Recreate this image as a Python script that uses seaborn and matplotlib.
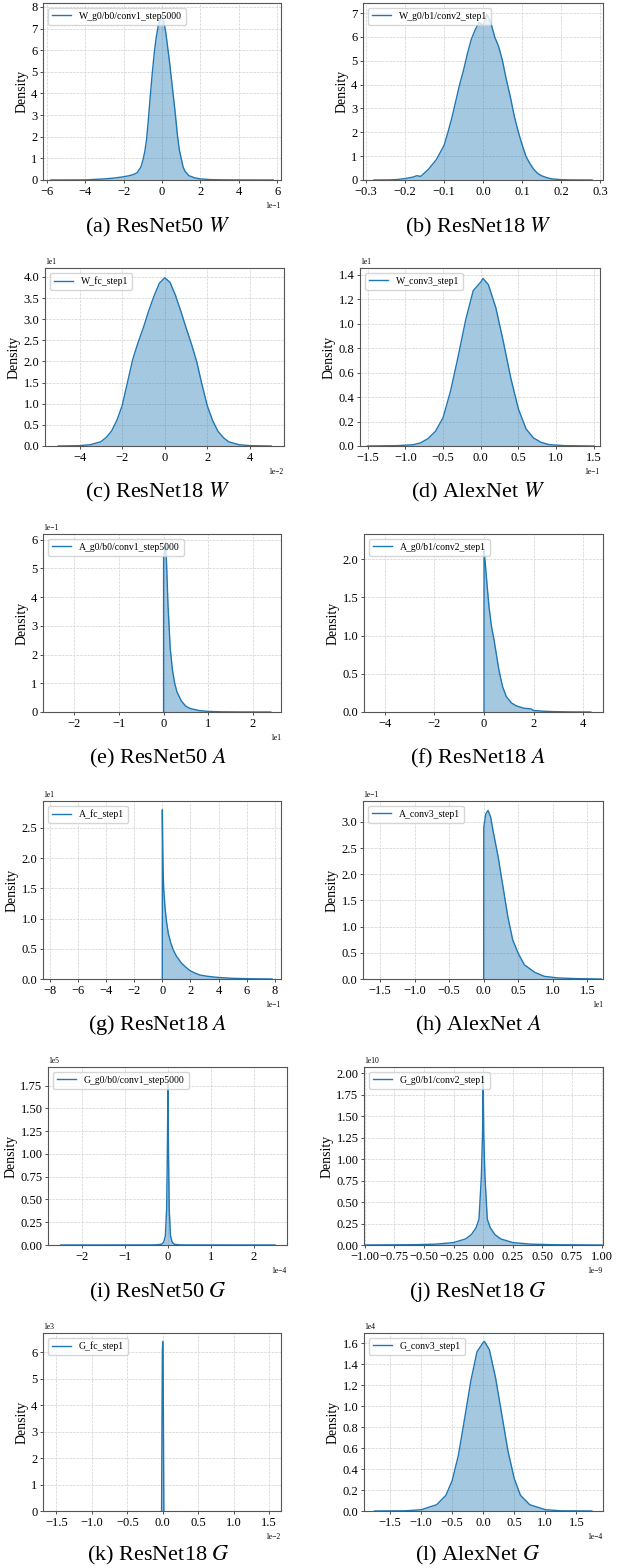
import numpy as np
import matplotlib
matplotlib.use("Agg")
import matplotlib.pyplot as plt
import seaborn as sns
from matplotlib.ticker import MultipleLocator

# %%
# density curves, in the units shown on the axes
# (x in units of 10**x_exp, y in units of 10**y_exp)

a_x = [-5.8, -4.0, -3.0, -2.5, -2.0, -1.7, -1.5, -1.3, -1.1, -1.0, -0.9, -0.8, -0.7, -0.6, -0.5, -0.4,
       -0.3, -0.2, -0.1, 0.0, 0.1, 0.2, 0.3, 0.4, 0.5, 0.6, 0.7, 0.8, 0.9, 1.0, 1.1, 1.2, 1.4, 1.7,
       2.0, 2.5, 3.0, 4.0, 5.8]
a_y = [0.0, 0.005, 0.05, 0.09, 0.15, 0.2, 0.25, 0.33, 0.6, 0.9, 1.3, 1.9, 2.9, 4.0, 5.0, 5.9,
       6.6, 7.1, 7.4, 7.55, 7.3, 6.8, 6.1, 5.4, 4.6, 3.8, 3.0, 2.1, 1.4, 1.0, 0.6, 0.4, 0.2, 0.1,
       0.05, 0.02, 0.01, 0.003, 0.0]

b_x = [-0.28, -0.24, -0.22, -0.20, -0.18, -0.17, -0.16, -0.15, -0.14, -0.13, -0.12, -0.11, -0.10,
       -0.09, -0.08, -0.07, -0.06, -0.05, -0.04, -0.03, -0.02, -0.01, 0.0, 0.01, 0.02, 0.03, 0.04,
       0.05, 0.06, 0.07, 0.08, 0.09, 0.10, 0.11, 0.12, 0.13, 0.14, 0.15, 0.16, 0.17, 0.18, 0.20,
       0.22, 0.28]
b_y = [0.0, 0.005, 0.02, 0.06, 0.12, 0.18, 0.15, 0.3, 0.45, 0.65, 0.85, 1.15, 1.45,
       2.0, 2.6, 3.3, 4.0, 4.6, 5.3, 5.9, 6.3, 6.6, 6.5, 6.95, 6.6, 6.0, 5.6,
       5.0, 4.2, 3.5, 2.7, 2.05, 1.5, 1.0, 0.7, 0.45, 0.28, 0.18, 0.12, 0.07, 0.04, 0.015,
       0.005, 0.0]

c_x = [-5.0, -4.0, -3.5, -3.0, -2.75, -2.5, -2.25, -2.0, -1.75, -1.5, -1.25, -1.0, -0.75, -0.5, -0.25,
       0.0, 0.25, 0.5, 0.75, 1.0, 1.25, 1.5, 1.75, 2.0, 2.25, 2.5, 2.75, 3.0, 3.5, 4.0, 5.0]
c_y = [0.0, 0.008, 0.03, 0.1, 0.2, 0.35, 0.6, 0.95, 1.5, 2.05, 2.45, 2.8, 3.2, 3.55, 3.85,
       3.98, 3.87, 3.57, 3.2, 2.8, 2.42, 2.0, 1.45, 0.95, 0.6, 0.35, 0.2, 0.1, 0.03, 0.008, 0.0]

d_x = [-1.5, -1.1, -0.9, -0.8, -0.7, -0.6, -0.5, -0.4, -0.3, -0.2, -0.1, 0.0, 0.03, 0.1, 0.2, 0.3,
       0.4, 0.5, 0.6, 0.7, 0.8, 0.9, 1.1, 1.5]
d_y = [0.0, 0.003, 0.01, 0.025, 0.06, 0.12, 0.23, 0.45, 0.73, 1.03, 1.27, 1.34, 1.37, 1.32, 1.13, 0.85,
       0.55, 0.3, 0.14, 0.065, 0.03, 0.012, 0.003, 0.0]

e_x = [0.0, 0.001, 0.05, 0.1, 0.15, 0.2, 0.25, 0.3, 0.4, 0.5, 0.6, 0.8, 1.0, 1.3, 1.8, 2.4]
e_y = [0.0, 5.4, 5.9, 3.7, 2.2, 1.45, 1.0, 0.7, 0.38, 0.2, 0.12, 0.05, 0.02, 0.006, 0.001, 0.0]

f_x = [0.0, 0.001, 0.05, 0.1, 0.2, 0.3, 0.4, 0.5, 0.6, 0.7, 0.75, 0.9, 1.1, 1.3, 1.6, 1.9, 2.0,
       2.4, 2.8, 3.5, 4.3]
f_y = [0.0, 2.12, 1.95, 1.75, 1.38, 1.12, 0.95, 0.75, 0.55, 0.4, 0.33, 0.2, 0.12, 0.08, 0.05, 0.04, 0.02,
       0.01, 0.005, 0.001, 0.0]

g_x = [0.0, 0.005, 0.03, 0.06, 0.1, 0.19, 0.3, 0.43, 0.6, 0.78, 1.0, 1.37, 1.7, 1.96, 2.3, 2.67,
       3.2, 3.85, 5.0, 6.2, 7.8]
g_y = [0.0, 2.8, 2.2, 1.8, 1.5, 1.19, 0.95, 0.75, 0.6, 0.48, 0.38, 0.26, 0.19, 0.14, 0.1, 0.066,
       0.045, 0.028, 0.011, 0.004, 0.0]

h_x = [0.0, 0.002, 0.03, 0.063, 0.1, 0.135, 0.21, 0.28, 0.35, 0.42, 0.5, 0.59, 0.74, 0.88, 1.08,
       1.37, 1.7]
h_y = [0.0, 2.9, 3.15, 3.22, 3.1, 2.84, 2.33, 1.76, 1.19, 0.75, 0.49, 0.27, 0.127, 0.05, 0.02,
       0.006, 0.0]

i_x = [-2.5, -0.3, -0.15, -0.1, -0.06, -0.03, -0.015, 0.0, 0.015, 0.03, 0.06, 0.1, 0.15, 0.3, 2.5]
i_y = [0.0, 0.001, 0.008, 0.03, 0.1, 0.4, 0.95, 1.77, 0.95, 0.4, 0.1, 0.03, 0.008, 0.001, 0.0]

j_x = [-1.0, -0.9, -0.6, -0.4, -0.25, -0.15, -0.1, -0.06, -0.035, -0.015, -0.005, 0.0, 0.005,
       0.015, 0.035, 0.06, 0.1, 0.15, 0.25, 0.4, 0.6, 0.9, 1.0]
j_y = [0.0, 0.001, 0.003, 0.01, 0.028, 0.07, 0.12, 0.2, 0.3, 0.8, 1.3, 1.97, 1.3,
       0.8, 0.3, 0.2, 0.12, 0.07, 0.028, 0.01, 0.003, 0.001, 0.0]

k_x = [-0.016, -0.01, -0.005, 0.0, 0.005, 0.01, 0.016]
k_y = [0.0, 3.5, 6.0, 6.4, 6.0, 3.5, 0.0]

l_x = [-1.75, -1.25, -1.0, -0.75, -0.6, -0.5, -0.4, -0.3, -0.2, -0.1, 0.0, 0.02, 0.1, 0.2, 0.3,
       0.4, 0.5, 0.6, 0.75, 1.0, 1.25, 1.75]
l_y = [0.0, 0.002, 0.012, 0.06, 0.15, 0.29, 0.53, 0.88, 1.24, 1.52, 1.61, 1.62, 1.54, 1.27, 0.92,
       0.57, 0.31, 0.15, 0.06, 0.013, 0.002, 0.0]

legend_labels = ["W_g0/b0/conv1_step5000", "W_g0/b1/conv2_step1", "W_fc_step1", "W_conv3_step1",
                 "A_g0/b0/conv1_step5000", "A_g0/b1/conv2_step1", "A_fc_step1", "A_conv3_step1",
                 "G_g0/b0/conv1_step5000", "G_g0/b1/conv2_step1", "G_fc_step1", "G_conv3_step1"]
captions = ["(a) ResNet50 $W$", "(b) ResNet18 $W$", "(c) ResNet18 $W$", "(d) AlexNet $W$",
            "(e) ResNet50 $A$", "(f) ResNet18 $A$", "(g) ResNet18 $A$", "(h) AlexNet $A$",
            "(i) ResNet50 $G$", "(j) ResNet18 $G$", "(k) ResNet18 $G$", "(l) AlexNet $G$"]
x_exp = [-1, 0, -2, -1, 1, 0, -1, 1, -4, -9, -2, -4]
y_exp = [0, 0, 1, 1, -1, 0, 1, -1, 5, 10, 3, 4]

curves = [(a_x, a_y), (b_x, b_y), (c_x, c_y), (d_x, d_y), (e_x, e_y), (f_x, f_y),
          (g_x, g_y), (h_x, h_y), (i_x, i_y), (j_x, j_y), (k_x, k_y), (l_x, l_y)]

# %%
# layout: axes boxes in pixels (left, top, width, height), limits and tick steps in axis units
boxes = [(43, 3, 238, 177), (363, 3, 240, 177),
         (45, 268, 239, 178), (360, 268, 240, 178),
         (43, 534, 238, 178), (364, 534, 239, 178),
         (43, 801, 238, 178), (363, 801, 240, 178),
         (48, 1067, 239, 178), (364, 1067, 239, 178),
         (43, 1333, 238, 178), (364, 1333, 239, 178)]
xlims = [(-6.2, 6.2), (-0.308, 0.308), (-5.62, 5.6), (-1.6, 1.58), (-2.7, 2.63), (-4.83, 4.79),
         (-8.47, 8.43), (-1.746, 1.727), (-2.8, 2.78), (-1.005, 1.011), (-1.69, 1.67), (-1.92, 1.93)]
ytops = [8.18, 7.42, 4.21, 1.455, 6.2, 2.327, 2.946, 3.40, 1.955, 2.07, 6.72, 1.70]
xsteps = [2, 0.1, 2, 0.5, 1, 2, 2, 0.5, 1, 0.25, 0.5, 0.5]
ysteps = [1, 1, 0.5, 0.2, 1, 0.5, 0.5, 0.5, 0.25, 0.25, 1, 0.2]
cap_x = [158, 478]
cap_y = [227, 492, 758, 1025, 1292, 1555]

plt.rcParams["font.family"] = ["Liberation Serif", "DejaVu Serif"]
plt.rcParams["mathtext.fontset"] = "stix"
plt.rcParams["axes.unicode_minus"] = True

W, H = 622, 1568
fig = plt.figure(figsize=(W / 100, H / 100), dpi=100)
color = "#1f77b4"

for k in range(12):
    l, t, w, h = boxes[k]
    ax = fig.add_axes([l / W, 1 - (t + h) / H, w / W, h / H])
    xs = np.array(curves[k][0]) * 10.0 ** x_exp[k]
    ys = np.array(curves[k][1]) * 10.0 ** y_exp[k]

    sns.lineplot(x=xs, y=ys, ax=ax, color=color, linewidth=1.0,
                 estimator=None, sort=False, label=legend_labels[k])
    ax.fill_between(xs, ys, color=color, alpha=0.4, linewidth=0)

    ax.set_xlim(xlims[k][0] * 10.0 ** x_exp[k], xlims[k][1] * 10.0 ** x_exp[k])
    ax.set_ylim(0, ytops[k] * 10.0 ** y_exp[k])
    ax.xaxis.set_major_locator(MultipleLocator(xsteps[k] * 10.0 ** x_exp[k]))
    ax.yaxis.set_major_locator(MultipleLocator(ysteps[k] * 10.0 ** y_exp[k]))
    for axis, ex in (("x", x_exp[k]), ("y", y_exp[k])):
        if ex != 0:
            ax.ticklabel_format(axis=axis, style="sci", scilimits=(ex, ex))
        else:
            ax.ticklabel_format(axis=axis, style="plain", useOffset=False)
    ax.xaxis.get_offset_text().set_fontsize(5.5)
    ax.yaxis.get_offset_text().set_fontsize(5.5)

    ax.set_xlabel("")
    ax.set_ylabel("Density", fontsize=10, labelpad=2)
    ax.tick_params(labelsize=9, length=2.5, width=0.6, pad=1.5, colors="#333333", labelcolor="black")
    for sp in ax.spines.values():
        sp.set_color("#555555")
        sp.set_linewidth(0.8)
    ax.set_axisbelow(True)
    ax.grid(True, linestyle="--", linewidth=0.5, color="#d0d0d0")
    ax.legend(loc="upper left", fontsize=7, handlelength=2.0, borderpad=0.4,
              framealpha=0.8, edgecolor="#cccccc")

    fig.text(cap_x[k % 2] / W, 1 - cap_y[k // 2] / H, captions[k],
             ha="center", va="center", fontsize=16)

fig.savefig("out.png", dpi=100)
